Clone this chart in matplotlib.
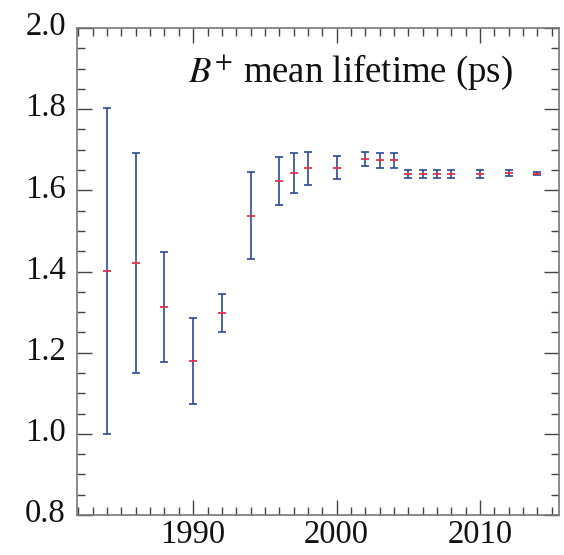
import numpy as np
import matplotlib
matplotlib.use("Agg")
import matplotlib.pyplot as plt
from matplotlib.ticker import MultipleLocator, FormatStrFormatter
from matplotlib.transforms import ScaledTranslation

# === Data ===
years = [1984, 1986, 1988, 1990, 1992, 1994, 1996, 1997, 1998, 2000,
         2002, 2003, 2004, 2005, 2006, 2007, 2008, 2010, 2012, 2014]
lifetime = [1.402, 1.422, 1.312, 1.180, 1.297, 1.538, 1.623, 1.643, 1.654, 1.656,
            1.678, 1.674, 1.674, 1.641, 1.641, 1.641, 1.641, 1.641, 1.643, 1.641]
errors = [0.402, 0.271, 0.135, 0.106, 0.047, 0.107, 0.060, 0.050, 0.040, 0.028,
          0.017, 0.018, 0.018, 0.010, 0.010, 0.010, 0.010, 0.010, 0.008, 0.004]

plt.rcParams['font.family'] = ['Liberation Serif', 'DejaVu Serif']
plt.rcParams['mathtext.fontset'] = 'stix'

fig = plt.figure(figsize=(5.64, 5.55), dpi=100)
ax = fig.add_axes([0.1365, 0.072, 0.991 - 0.1365, 0.9495 - 0.072])

blue = '#2c4a9c'
red = '#e8304a'
ax.errorbar(years, lifetime, yerr=errors, fmt='none', ecolor=blue,
            elinewidth=1.2, capsize=3.2, capthick=1.2, zorder=2)
ax.plot(years, lifetime, ls='none', marker='_', ms=6, mew=1.3,
        color=red, zorder=3)

ax.set_xlim(1981.9, 2015.5)
ax.set_ylim(0.8, 2.0)
ax.xaxis.set_major_locator(MultipleLocator(10))
ax.xaxis.set_minor_locator(MultipleLocator(1))
ax.yaxis.set_major_locator(MultipleLocator(0.2))
ax.yaxis.set_minor_locator(MultipleLocator(0.05))
ax.yaxis.set_major_formatter(FormatStrFormatter('%.1f'))

ax.tick_params(which='both', direction='in', top=True, right=True,
               color='#444444', labelsize=23.5, labelcolor='#111111')
ax.tick_params(which='major', length=11, width=1.0)
ax.tick_params(which='minor', length=6, width=1.0)
ax.tick_params(axis='x', which='major', pad=3)
ax.tick_params(axis='y', which='major', pad=8)
for s in ax.spines.values():
    s.set_color('#777777')
    s.set_linewidth(1.2)

# y labels sit a little above their ticks in the original
fig.canvas.draw()
for lab in ax.get_yticklabels():
    lab.set_transform(lab.get_transform() + ScaledTranslation(0, 0.045, fig.dpi_scale_trans))

ax.text(0.905, 0.889, r'$B^{+}$ mean lifetime (ps)', transform=ax.transAxes,
        ha='right', va='baseline', fontsize=26.5, color='#111111')

fig.savefig('out.png', dpi=100)
